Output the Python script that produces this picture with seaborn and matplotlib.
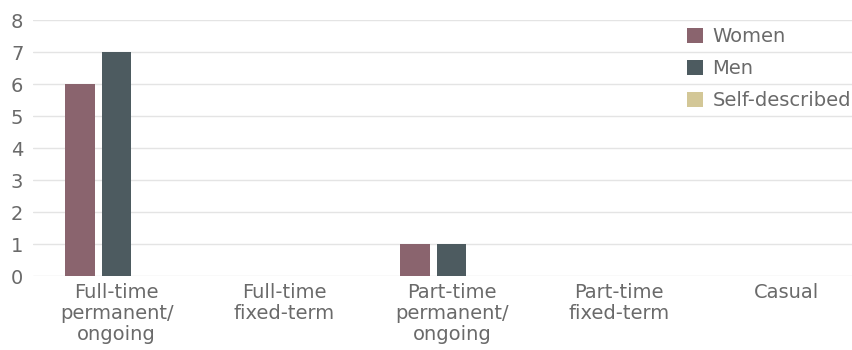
import matplotlib
matplotlib.use("Agg")
import matplotlib.pyplot as plt
import seaborn as sns
import pandas as pd

categories = [
    "Full-time\npermanent/\nongoing",
    "Full-time\nfixed-term",
    "Part-time\npermanent/\nongoing",
    "Part-time\nfixed-term",
    "Casual",
]
series_names = ["Women", "Men", "Self-described"]
women = [6, 0, 1, 0, 0]
men = [7, 0, 1, 0, 0]
self_described = [0, 0, 0, 0, 0]
y_ticks = [0, 1, 2, 3, 4, 5, 6, 7, 8]

colors = ["#8A646E", "#4D5B60", "#D3C797"]
text_color = "#6A6A6A"
grid_color = "#E4E4E4"

df = pd.DataFrame({
    "category": categories * 3,
    "group": [s for s in series_names for _ in categories],
    "count": women + men + self_described,
})

sns.set_theme(style="white")
plt.rcParams["font.family"] = ["DejaVu Sans"]

fig = plt.figure(figsize=(8.53, 3.5), dpi=100)
ax = fig.add_axes([33 / 853, 74 / 350, 1 - 33 / 853, (276 - 20) / 350])

sns.barplot(
    data=df, x="category", y="count", hue="group",
    order=categories, hue_order=series_names, palette=colors,
    width=0.66, gap=0.2, linewidth=0, saturation=1, ax=ax,
)

ax.set_ylim(0, 8)
ax.set_xlim(-0.5, (853 - 33) / 167.5 - 0.5)
ax.set_yticks(y_ticks)
ax.set_yticklabels([str(v) for v in y_ticks])
ax.grid(axis="y", color=grid_color, linewidth=1)
ax.set_axisbelow(True)
for s in ax.spines.values():
    s.set_visible(False)
ax.tick_params(axis="both", length=0, labelcolor=text_color, labelsize=14)
ax.tick_params(axis="y", pad=7)
ax.tick_params(axis="x", pad=5)
for lab in ax.get_xticklabels():
    lab.set_linespacing(1.15)
ax.set_xlabel("")
ax.set_ylabel("")

handles, labels = ax.get_legend_handles_labels()
ax.legend(
    handles, labels, loc="upper left",
    bbox_to_anchor=(687 / 853, 1 - 27 / 350), bbox_transform=fig.transFigure,
    frameon=False, fontsize=14, labelcolor=text_color,
    handlelength=0.8, handleheight=0.8, handletextpad=0.5,
    labelspacing=0.68, borderpad=0, borderaxespad=0,
)

fig.savefig("out.png", dpi=100)
